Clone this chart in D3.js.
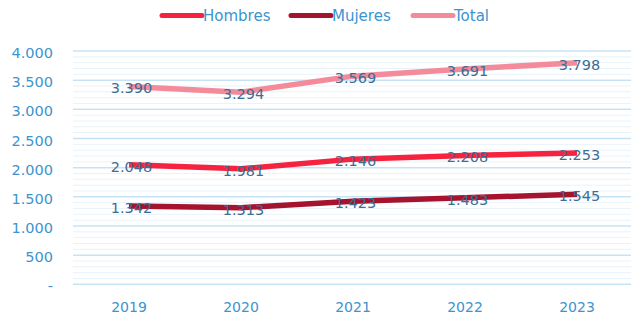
<!DOCTYPE html>
<html><head><meta charset="utf-8">
<script src="https://cdn.jsdelivr.net/npm/d3@7"></script>
<style>body{margin:0;background:#fff}svg{display:block}</style>
</head><body>
<svg id="c" width="631" height="320"></svg>
<script>
const years = ["2019","2020","2021","2022","2023"];
const hombres = [2048,1981,2146,2208,2253];
const mujeres = [1342,1313,1423,1483,1545];
const total = [3390,3294,3569,3691,3798];
const seriesNames = ["Hombres","Mujeres","Total"];
const yTicks = [0,500,1000,1500,2000,2500,3000,3500,4000];

const colors = {Hombres:"#f5233f", Mujeres:"#a5132f", Total:"#f48b9b"};
const font = "'DejaVu Sans', sans-serif";
const svg = d3.select("#c");
const x = d3.scaleBand().domain(years).range([73, 633]);
const y = d3.scaleLinear().domain([0,4000]).range([284.3, 51]);
const fmt = v => v === 0 ? "-" : d3.format(",")(v).replace(/,/g, ".");

// minor grid
const minor = d3.range(0, 4001, 100).filter(v => v % 500 !== 0);
svg.append("g").selectAll("line").data(minor).join("line")
  .attr("x1", 73).attr("x2", 631).attr("y1", d => y(d)).attr("y2", d => y(d))
  .attr("stroke", "#e8f3fa").attr("stroke-width", 1);
// major grid
svg.append("g").selectAll("line").data(yTicks).join("line")
  .attr("x1", 73).attr("x2", 631).attr("y1", d => y(d)).attr("y2", d => y(d))
  .attr("stroke", "#c6e3f5").attr("stroke-width", 1.5);

// y axis
const ya = svg.append("g").attr("transform", "translate(53,0)")
  .call(d3.axisLeft(y).tickValues(yTicks).tickFormat(fmt).tickSize(0).tickPadding(0));
ya.select(".domain").remove();
ya.selectAll("text").attr("fill", "#3c94cf").attr("dy", "0.45em")
  .style("font-family", font).style("font-size", "14.5px");

// x axis
const xa = svg.append("g").attr("transform", "translate(0,312)")
  .call(d3.axisBottom(x).tickSize(0).tickPadding(0));
xa.select(".domain").remove();
xa.selectAll("text").attr("fill", "#3c94cf").attr("dy", 0)
  .style("font-family", font).style("font-size", "14px");

const data = {Hombres: hombres, Mujeres: mujeres, Total: total};
const line = d3.line().x((d,i) => x(years[i]) + x.bandwidth()/2).y(d => y(d));
["Total","Hombres","Mujeres"].forEach(n => {
  svg.append("path").datum(data[n]).attr("d", line)
    .attr("fill", "none").attr("stroke", colors[n]).attr("stroke-width", 5.5)
    .attr("stroke-linejoin", "round").attr("stroke-linecap", "butt");
});
["Total","Hombres","Mujeres"].forEach(n => {
  svg.append("g").selectAll("text").data(data[n]).join("text")
    .attr("x", (d,i) => x(years[i]) + x.bandwidth()/2 + 2.5)
    .attr("y", d => y(d) + 6.8)
    .attr("text-anchor", "middle")
    .attr("fill", "#3e6c93").style("font-family", font).style("font-size", "14.5px")
    .text(fmt);
});

// legend
const legX = {Hombres:162, Mujeres:291, Total:413};
const lg = svg.append("g");
seriesNames.forEach(n => {
  lg.append("line").attr("x1", legX[n]).attr("x2", legX[n] + 40).attr("y1", 15.5).attr("y2", 15.5)
    .attr("stroke", colors[n]).attr("stroke-width", 5).attr("stroke-linecap", "round");
  lg.append("text").attr("x", legX[n] + 41).attr("y", 20.5).attr("fill", "#3c94cf")
    .style("font-family", font).style("font-size", "15px").text(n);
});
</script>
</body></html>
